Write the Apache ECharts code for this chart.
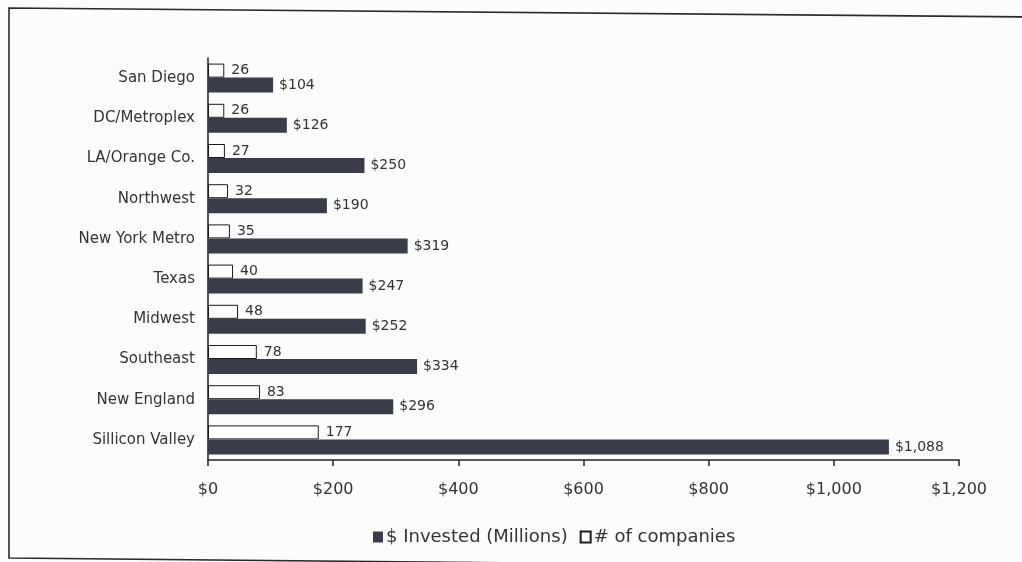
<!DOCTYPE html>
<html>
<head>
<meta charset="utf-8">
<script src="https://cdn.jsdelivr.net/npm/echarts@6/dist/echarts.min.js"></script>
<style>
  html, body { margin: 0; padding: 0; background: #fcfcfc; }
  #chart { width: 1022px; height: 562px; }
</style>
</head>
<body>
<div id="chart"></div>
<script>
// Regions, top to bottom
const regions = ['San Diego', 'DC/Metroplex', 'LA/Orange Co.', 'Northwest', 'New York Metro',
  'Texas', 'Midwest', 'Southeast', 'New England', 'Sillicon Valley'];
// $ invested, millions
const invested = [104, 126, 250, 190, 319, 247, 252, 334, 296, 1088];
// number of companies
const companies = [26, 26, 27, 32, 35, 40, 48, 78, 83, 177];
const xTicks = [0, 200, 400, 600, 800, 1000, 1200];

const FONT = 'DejaVu Sans';
const TEXT = '#333';
const DARK = '#3a3c4a';
const money = v => '$' + Number(v).toLocaleString('en-US');

const chart = echarts.init(document.getElementById('chart'), null, { renderer: 'canvas' });

chart.setOption({
  backgroundColor: '#fcfcfc',
  animation: false,
  textStyle: { fontFamily: FONT, color: TEXT },
  graphic: [{
    type: 'polygon',
    silent: true,
    shape: { points: [[9, 8], [1040, 17], [1040, 568], [9, 558]] },
    style: { fill: 'none', stroke: '#2a2a2a', lineWidth: 1.6 }
  }],
  grid: { left: 208, right: 63, top: 58, bottom: 102, containLabel: false },
  legend: {
    left: 368,
    top: 523,
    icon: 'rect',
    itemWidth: 10,
    itemHeight: 11,
    itemGap: 12,
    data: ['$ Invested (Millions)', '# of companies'],
    textStyle: { fontFamily: FONT, fontSize: 18, color: TEXT, padding: [0, 0, 0, -2] }
  },
  xAxis: {
    type: 'value',
    min: xTicks[0],
    max: xTicks[xTicks.length - 1],
    interval: xTicks[1] - xTicks[0],
    axisLine: { show: true, lineStyle: { color: '#222', width: 1.5 } },
    axisTick: { show: true, length: 6, lineStyle: { color: '#222', width: 1.5 } },
    splitLine: { show: false },
    axisLabel: {
      margin: 22,
      fontFamily: FONT, fontSize: 16, color: TEXT,
      formatter: money
    }
  },
  yAxis: {
    type: 'category',
    inverse: true,
    data: regions,
    axisLine: { show: true, lineStyle: { color: '#222', width: 1.5 } },
    axisTick: { show: false },
    axisLabel: { margin: 13, fontFamily: FONT, fontSize: 15, color: TEXT }
  },
  series: [
    {
      name: '# of companies',
      type: 'bar',
      data: companies,
      barWidth: 14,
      barGap: '0%',
      itemStyle: { color: '#ffffff', borderColor: '#1a1a1a', borderWidth: 1 },
      label: {
        show: true, position: 'right', distance: 7,
        fontFamily: FONT, fontSize: 14, color: TEXT
      }
    },
    {
      name: '$ Invested (Millions)',
      type: 'bar',
      data: invested,
      barWidth: 15,
      barGap: '0%',
      itemStyle: { color: DARK },
      label: {
        show: true, position: 'right', distance: 6,
        fontFamily: FONT, fontSize: 14, color: TEXT,
        formatter: p => money(p.value)
      }
    }
  ]
});
</script>
</body>
</html>
